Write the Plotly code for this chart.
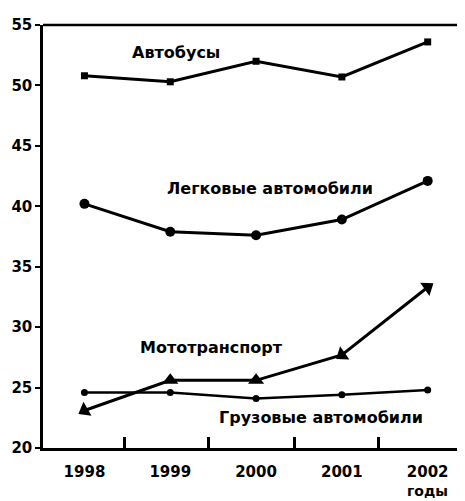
import plotly.graph_objects as go

years = ["1998", "1999", "2000", "2001", "2002"]
buses = [50.8, 50.3, 52.0, 50.7, 53.6]
cars = [40.2, 37.9, 37.6, 38.9, 42.1]
moto = [23.1, 25.6, 25.6, 27.7, 33.3]
trucks = [24.6, 24.6, 24.1, 24.4, 24.8]
y_ticks = [20, 25, 30, 35, 40, 45, 50, 55]

xpos = list(range(len(years)))
FONT = "DejaVu Sans"

fig = go.Figure()
fig.add_trace(go.Scatter(x=xpos, y=buses, mode="lines+markers",
                         line=dict(color="black", width=3),
                         marker=dict(symbol="square", size=7, color="black")))
fig.add_trace(go.Scatter(x=xpos, y=cars, mode="lines+markers",
                         line=dict(color="black", width=3),
                         marker=dict(symbol="circle", size=10, color="black")))
fig.add_trace(go.Scatter(x=xpos, y=moto, mode="lines+markers",
                         line=dict(color="black", width=3),
                         marker=dict(symbol="triangle-up", size=14, color="black",
                                     angle=[240, 0, 0, 235, 55])))
fig.add_trace(go.Scatter(x=xpos, y=trucks, mode="lines+markers",
                         line=dict(color="black", width=2.5),
                         marker=dict(symbol="circle", size=7, color="black")))

ann_font = dict(family=FONT, size=16, color="black", weight="bold")
fig.add_annotation(x=1.07, y=52.75, text="Автобусы", showarrow=False, font=ann_font)
fig.add_annotation(x=2.16, y=41.5, text="Легковые автомобили", showarrow=False, font=ann_font)
fig.add_annotation(x=1.48, y=28.35, text="Мототранспорт", showarrow=False, font=ann_font)
fig.add_annotation(x=2.76, y=22.5, text="Грузовые автомобили", showarrow=False, font=ann_font)
fig.add_annotation(x=4, xref="x", y=-0.101, yref="paper", text="годы", showarrow=False,
                   font=dict(family=FONT, size=14, color="black", weight="bold"),
                   yanchor="middle")

# partial right border
fig.add_shape(type="line", xref="paper", yref="paper", x0=1, x1=1, y0=0, y1=0.59,
              line=dict(color="#333", width=1))

fig.update_xaxes(range=[-0.483, 4.40], tickvals=xpos, ticktext=years,
                 showgrid=False, zeroline=False, showline=True, linecolor="black", linewidth=2.5,
                 ticks="", ticklabelstandoff=8,
                 tickfont=dict(family=FONT, size=15, color="black", weight="bold"),
                 minor=dict(tickvals=[0.47, 1.45, 2.45, 3.43], ticks="inside", ticklen=11,
                            tickwidth=2.5, tickcolor="black"))
fig.update_yaxes(range=[20, 55], tickvals=y_ticks,
                 showgrid=False, zeroline=False, showline=True, linecolor="black", linewidth=2.5,
                 mirror=False, ticks="outside", ticklen=5, tickwidth=2, tickcolor="black",
                 tickfont=dict(family=FONT, size=15, color="black", weight="bold"))

# top border line
fig.add_shape(type="line", xref="paper", yref="paper", x0=0, x1=1.01, y0=1, y1=1,
              line=dict(color="black", width=2.5))

fig.update_layout(width=457, height=493, margin=dict(l=29, r=3, t=17, b=53),
                  showlegend=False, plot_bgcolor="white", paper_bgcolor="white")

fig.write_html("out.html")
